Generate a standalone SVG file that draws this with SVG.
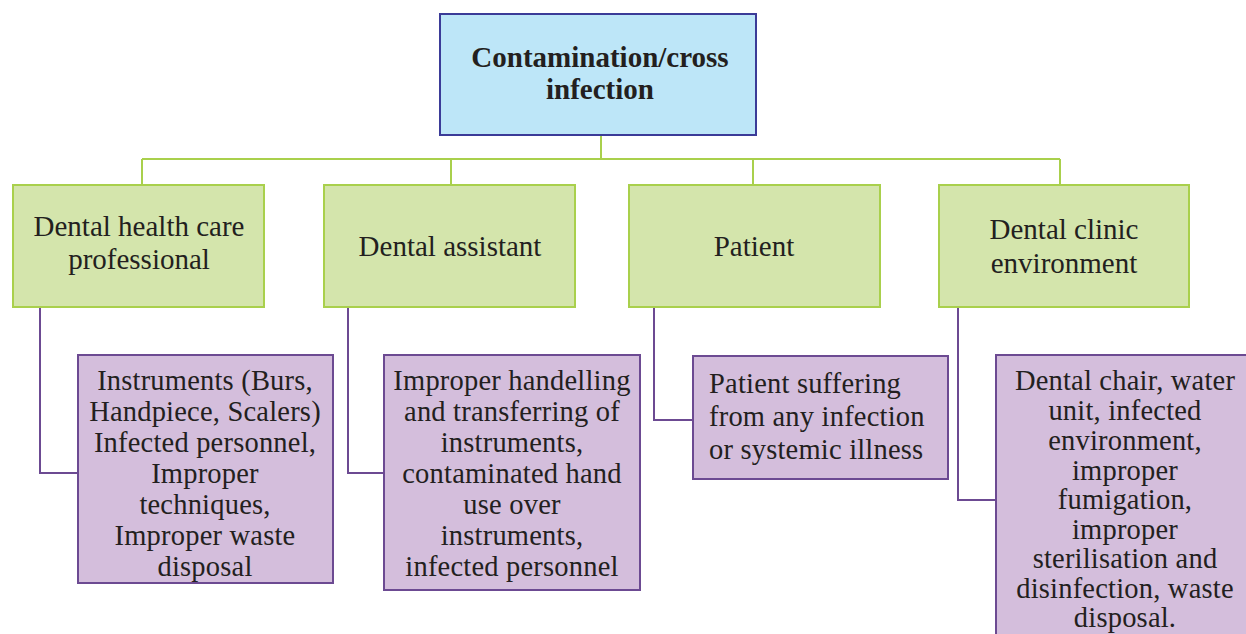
<svg xmlns="http://www.w3.org/2000/svg" width="1246" height="634" viewBox="0 0 1246 634">
<style>
.top{fill:#bde6f8;stroke:#3b3b98;stroke-width:2}
.grn{fill:#d4e5ac;stroke:#a9d04c;stroke-width:2}
.pur{fill:#d4bedc;stroke:#6c4a92;stroke-width:2}
.gl{fill:none;stroke:#a9d04c;stroke-width:2}
.pl{fill:none;stroke:#6c4a92;stroke-width:2}
text{font-family:"Liberation Serif","Times New Roman",serif;fill:#231f20;text-anchor:middle}
.t{font-size:29px;font-weight:bold}
.g{font-size:29px}
.p{font-size:28.5px;letter-spacing:0.2px}
</style>
<rect width="1246" height="634" fill="#fff"/>
<g id="connectors">
<path class="gl" d="M601,135V159M142,159H1060M142,159V185M451,159V185M753,159V185M1060,159V185"/>
<path class="pl" d="M40,307V473H78M348,307V473H384M654,307V420H693M958,307V500H996"/>
</g>
<g id="root">
<rect class="top" x="440" y="14" width="316" height="121"/>
<text class="t" x="600" y="67">Contamination/cross</text>
<text class="t" x="600" y="99">infection</text>
</g>
<g id="n1">
<rect class="grn" x="13" y="185" width="251" height="122"/>
<text class="g" x="139" y="236">Dental health care</text>
<text class="g" x="139" y="269">professional</text>
</g>
<g id="n2">
<rect class="grn" x="324" y="185" width="251" height="122"/>
<text class="g" x="450" y="256">Dental assistant</text>
</g>
<g id="n3">
<rect class="grn" x="629" y="185" width="251" height="122"/>
<text class="g" x="754" y="256">Patient</text>
</g>
<g id="n4">
<rect class="grn" x="939" y="185" width="250" height="122"/>
<text class="g" x="1064" y="239">Dental clinic</text>
<text class="g" x="1064" y="273">environment</text>
</g>
<g id="p1">
<rect class="pur" x="78" y="355" width="255" height="228"/>
<text class="p" x="205"><tspan x="205" y="390">Instruments (Burs,</tspan><tspan x="205" y="421">Handpiece, Scalers)</tspan><tspan x="205" y="452">Infected personnel,</tspan><tspan x="205" y="483">Improper</tspan><tspan x="205" y="514">techniques,</tspan><tspan x="205" y="545">Improper waste</tspan><tspan x="205" y="576">disposal</tspan></text>
</g>
<g id="p2">
<rect class="pur" x="384" y="355" width="256" height="235"/>
<text class="p" x="512"><tspan x="512" y="390">Improper handelling</tspan><tspan x="512" y="421">and transferring of</tspan><tspan x="512" y="452">instruments,</tspan><tspan x="512" y="483">contaminated hand</tspan><tspan x="512" y="514">use over</tspan><tspan x="512" y="545">instruments,</tspan><tspan x="512" y="576">infected personnel</tspan></text>
</g>
<g id="p3">
<rect class="pur" x="693" y="356" width="255" height="123"/>
<text class="p" style="text-anchor:start"><tspan x="709" y="393">Patient suffering</tspan><tspan x="709" y="426">from any infection</tspan><tspan x="709" y="459">or systemic illness</tspan></text>
</g>
<g id="p4">
<rect class="pur" x="996" y="355" width="260" height="290"/>
<text class="p" x="1125"><tspan x="1125" y="390">Dental chair, water</tspan><tspan x="1125" y="420">unit, infected</tspan><tspan x="1125" y="450">environment,</tspan><tspan x="1125" y="480">improper</tspan><tspan x="1125" y="509">fumigation,</tspan><tspan x="1125" y="539">improper</tspan><tspan x="1125" y="568">sterilisation and</tspan><tspan x="1125" y="598">disinfection, waste</tspan><tspan x="1125" y="627">disposal.</tspan></text>
</g>
</svg>
